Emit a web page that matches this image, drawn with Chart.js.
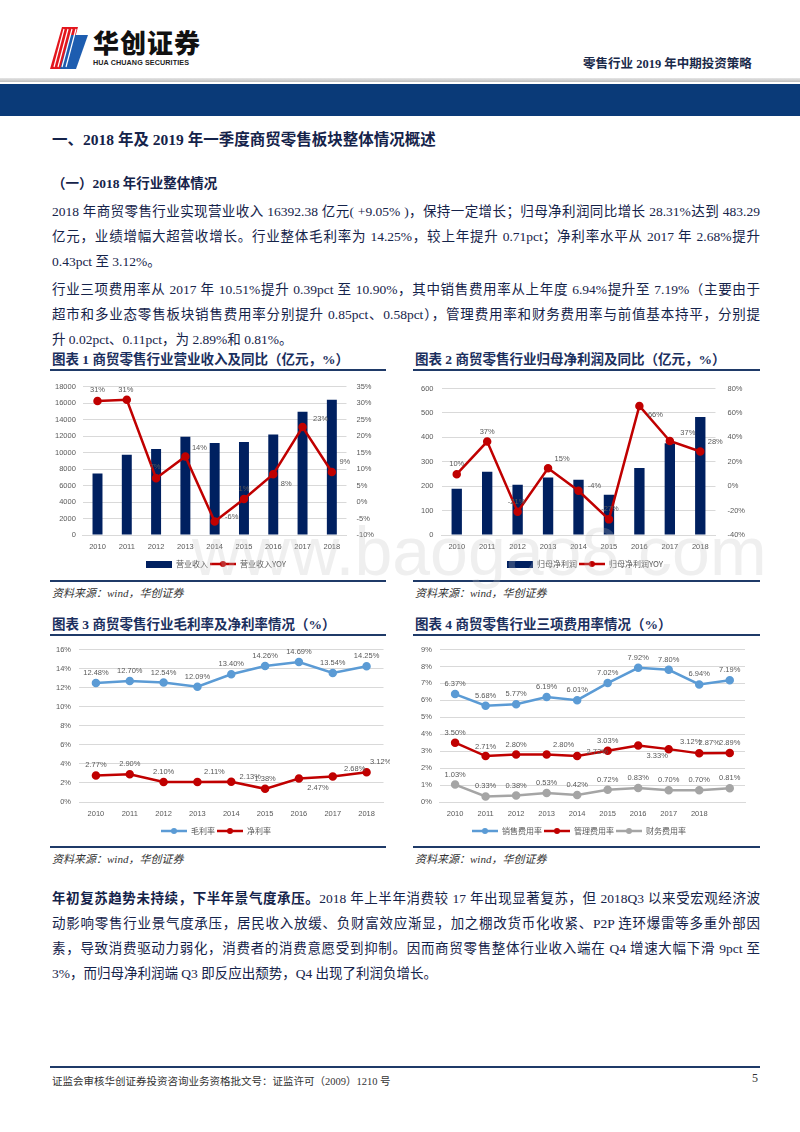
<!DOCTYPE html>
<html><head><meta charset="utf-8">
<script src="https://cdn.jsdelivr.net/npm/chart.js@4.4.1/dist/chart.umd.min.js"></script>
<style>
html,body{margin:0;padding:0;background:#fff;}
body{width:800px;height:1132px;position:relative;overflow:hidden;font-family:"Liberation Serif","Noto Sans CJK SC",serif;color:#15234a;}
.abs{position:absolute;}
.line{position:absolute;left:52px;width:708px;height:25px;line-height:25px;font-size:13.5px;white-space:nowrap;text-align:justify;text-align-last:justify;}
.line.last{text-align-last:left;}
.ttl{position:absolute;font-size:13.5px;font-weight:bold;color:#1b2f5e;white-space:nowrap;}
.rule{position:absolute;height:2px;background:#1f3a68;}
.src{position:absolute;font-size:11px;font-style:italic;color:#333;white-space:nowrap;}
.cbox{position:absolute;}
</style></head>
<body>
<!-- header -->
<svg class="abs" style="left:48px;top:27px" width="42" height="42" viewBox="0 0 42 42">
  <polygon points="14,0 30,0 18,42 2,42" fill="#e3161d"/>
  <polygon points="22,8 40,8 28,42 12,42" fill="#1d5db0"/>
  <g stroke="#fff" stroke-width="1.2">
    <line x1="16" y1="2" x2="6" y2="40"/><line x1="20" y1="2" x2="10" y2="40"/>
    <line x1="24" y1="2" x2="14" y2="40"/><line x1="28" y1="2" x2="18" y2="40"/>
  </g>
</svg>
<div class="abs" style="left:93px;top:27px;font-family:'Noto Sans CJK SC';font-weight:900;font-size:26px;letter-spacing:1px;color:#111;line-height:30px;">华创证券</div>
<div class="abs" style="left:93px;top:58px;font-family:'Liberation Sans';font-weight:bold;font-size:7.2px;color:#222;letter-spacing:0.1px;">HUA CHUANG SECURITIES</div>
<div class="abs" style="left:583px;top:53px;font-size:12.5px;font-weight:bold;color:#1b2a4a;white-space:nowrap;">零售行业 2019 年中期投资策略</div>
<div class="abs" style="left:0;top:78px;width:800px;height:4px;background:linear-gradient(#e6e6e6,#bdbdbd);"></div>
<div class="abs" style="left:0;top:84px;width:800px;height:32px;background:#0a3a78;"></div>

<div class="abs" style="left:52px;top:127px;font-size:15.5px;font-weight:bold;white-space:nowrap;">一、2018 年及 2019 年一季度商贸零售板块整体情况概述</div>
<div class="abs" style="left:52px;top:172px;font-size:13.5px;font-weight:bold;white-space:nowrap;">（一）2018 年行业整体情况</div>

<div class="line" style="top:199px">2018 年商贸零售行业实现营业收入 16392.38 亿元( +9.05% )，保持一定增长；归母净利润同比增长 28.31%达到 483.29</div>
<div class="line" style="top:224px">亿元，业绩增幅大超营收增长。行业整体毛利率为 14.25%，较上年提升 0.71pct；净利率水平从 2017 年 2.68%提升</div>
<div class="line last" style="top:249px">0.43pct 至 3.12%。</div>
<div class="line" style="top:277px">行业三项费用率从 2017 年 10.51%提升 0.39pct 至 10.90%，其中销售费用率从上年度 6.94%提升至 7.19%（主要由于</div>
<div class="line" style="top:302px">超市和多业态零售板块销售费用率分别提升 0.85pct、0.58pct），管理费用率和财务费用率与前值基本持平，分别提</div>
<div class="line last" style="top:327px">升 0.02pct、0.11pct，为 2.89%和 0.81%。</div>

<div class="ttl" style="left:52px;top:348px">图表 1 商贸零售行业营业收入及同比（亿元，%）</div>
<div class="ttl" style="left:415px;top:348px">图表 2 商贸零售行业归母净利润及同比（亿元，%）</div>
<div class="rule" style="left:50px;top:369px;width:336px"></div>
<div class="rule" style="left:413px;top:369px;width:347px"></div>
<div class="cbox" style="left:40px;top:372px;width:350px;height:206px"><canvas id="c1"></canvas></div>
<div class="cbox" style="left:405px;top:372px;width:360px;height:206px"><canvas id="c2"></canvas></div>
<div class="rule" style="left:50px;top:580px;width:336px"></div>
<div class="rule" style="left:413px;top:580px;width:347px"></div>
<div class="src" style="left:52px;top:584px">资料来源：wind，华创证券</div>
<div class="src" style="left:415px;top:584px">资料来源：wind，华创证券</div>

<div class="ttl" style="left:52px;top:613px">图表 3 商贸零售行业毛利率及净利率情况（%）</div>
<div class="ttl" style="left:415px;top:613px">图表 4 商贸零售行业三项费用率情况（%）</div>
<div class="rule" style="left:50px;top:634px;width:336px"></div>
<div class="rule" style="left:413px;top:634px;width:347px"></div>
<div class="cbox" style="left:40px;top:637px;width:350px;height:208px"><canvas id="c3"></canvas></div>
<div class="cbox" style="left:405px;top:637px;width:360px;height:208px"><canvas id="c4"></canvas></div>
<div class="rule" style="left:50px;top:846px;width:336px"></div>
<div class="rule" style="left:413px;top:846px;width:347px"></div>
<div class="src" style="left:52px;top:850px">资料来源：wind，华创证券</div>
<div class="src" style="left:415px;top:850px">资料来源：wind，华创证券</div>

<div class="line" style="top:886px"><b>年初复苏趋势未持续，下半年景气度承压。</b>2018 年上半年消费较 17 年出现显著复苏，但 2018Q3 以来受宏观经济波</div>
<div class="line" style="top:911px">动影响零售行业景气度承压，居民收入放缓、负财富效应渐显，加之棚改货币化收紧、P2P 连环爆雷等多重外部因</div>
<div class="line" style="top:936px">素，导致消费驱动力弱化，消费者的消费意愿受到抑制。因而商贸零售整体行业收入端在 Q4 增速大幅下滑 9pct 至</div>
<div class="line last" style="top:961px">3%，而归母净利润端 Q3 即反应出颓势，Q4 出现了利润负增长。</div>

<div class="abs" style="left:50px;top:1066px;width:710px;height:2px;background:#1f3a68;"></div>
<div class="abs" style="left:52px;top:1073px;font-size:10.5px;color:#333;white-space:nowrap;">证监会审核华创证券投资咨询业务资格批文号：证监许可（2009）1210 号</div>
<div class="abs" style="left:752px;top:1071px;font-size:12px;color:#333;">5</div>

<div class="abs" style="left:192px;top:512px;font-family:'Liberation Sans';font-size:68px;color:rgba(190,190,190,0.25);white-space:nowrap;pointer-events:none;">www.baogao8.com</div>

<script>
// ---------- data ----------
const years = ['2010','2011','2012','2013','2014','2015','2016','2017','2018'];
const years4 = ['2010','2011','2012','2013','2014','2015','2016','2017','2018',''];
const revenue = [7440, 9715, 10436, 11917, 11158, 11271, 12182, 14953, 16392];
const revenueYoy = [30.6, 31.0, 7.2, 13.8, -5.9, 0.9, 8.4, 22.7, 9.1];
const profit = [189, 259, 206, 236, 226, 165, 274, 376, 483];
const profitYoy = [9.8, 36.5, -20.9, 14.6, -3.8, -27.2, 65.7, 37.0, 28.4];
const grossMargin = [12.48, 12.70, 12.54, 12.09, 13.40, 14.26, 14.69, 13.54, 14.25];
const netMargin = [2.77, 2.90, 2.10, 2.11, 2.13, 1.38, 2.47, 2.68, 3.12];
const salesExp = [6.37, 5.68, 5.77, 6.19, 6.01, 7.02, 7.92, 7.80, 6.94, 7.19];
const mgmtExp = [3.50, 2.71, 2.80, 2.80, 2.72, 3.03, 3.33, 3.12, 2.87, 2.89];
const finExp = [1.03, 0.33, 0.38, 0.53, 0.42, 0.72, 0.83, 0.70, 0.70, 0.81];

// ---------- label offsets (styling) ----------
const up = n => Array(n).fill([0,-10]);
const off1 = [[0,-11],[-1,-10],[-1,-11],[14,-9],[17,-5],[0,-10],[13,10],[18,-8],[13,-10]];
const off2 = [[0,-10],[0,-10],[-1,-10],[14,-9],[16,-5],[1,-10],[16,9],[18,-8],[15,-10]];
const off3n = [[0,-11],[0,-10],[0,-10],[17,-10],[19,-5],[0,-10],[19,9],[22,-8],[14,-10]];
const off4m = [[0,-10],[0,-9],[0,-10],[17,-10],[20,-4],[0,-10],[19,10],[22,-7],[10,-10],[0,-10]];

const NAVY='#002060', RED='#c00000', BLUE='#5b9bd5', GRAY='#a5a5a5', GRID='#d9d9d9', TXT='#595959';
const TICKF={family:'"Liberation Sans"',size:7.5};

const labelPlugin={id:'vlabels',afterDatasetsDraw(chart){
  const ctx=chart.ctx;
  chart.data.datasets.forEach((ds,i)=>{
    if(!ds.labelFmt) return;
    const meta=chart.getDatasetMeta(i);
    ctx.save();ctx.font='7.5px "Liberation Sans"';ctx.fillStyle=TXT;ctx.textAlign='center';ctx.textBaseline='middle';
    meta.data.forEach((el,j)=>{const o=ds.labelOff?ds.labelOff[j]:[0,-10];ctx.fillText(ds.labelFmt(ds.data[j]),el.x+o[0],el.y+o[1]);});
    ctx.restore();
  });
}};

function icon(type,color){
  const c=document.createElement('canvas');
  if(type==='bar'){c.width=26;c.height=7;const x=c.getContext('2d');x.fillStyle=color;x.fillRect(0,0,26,7);}
  else{c.width=26;c.height=8;const x=c.getContext('2d');x.strokeStyle=color;x.lineWidth=2.5;x.beginPath();x.moveTo(0,4);x.lineTo(26,4);x.stroke();x.fillStyle=color;x.beginPath();x.arc(13,4,3,0,Math.PI*2);x.fill();}
  return c;
}
function legendOpts(){
  return {position:'bottom',labels:{usePointStyle:true,pointStyleWidth:26,boxHeight:7,padding:2,color:TXT,font:{family:'"Noto Sans CJK SC"',size:8},
    generateLabels(chart){return chart.data.datasets.map((ds,i)=>({text:ds.label,pointStyle:icon(ds.type==='bar'?'bar':'line',ds.borderColor||ds.backgroundColor),fillStyle:ds.backgroundColor,strokeStyle:ds.borderColor,lineWidth:0,hidden:false,datasetIndex:i,fontColor:TXT}));}}};
}
function lineDs(label,data,color,fmt,offs){
  return {type:'line',label,data,borderColor:color,backgroundColor:color,borderWidth:2.5,pointRadius:3,pointBackgroundColor:color,pointBorderColor:color,tension:0,labelFmt:fmt,labelOff:offs};
}
const pct0=v=>Math.round(v)+'%', pct2=v=>v.toFixed(2)+'%';
const xAxis=(labels)=>({type:'category',labels,offset:true,grid:{display:false,drawTicks:false},border:{color:GRID},ticks:{color:TXT,font:TICKF,padding:7,maxRotation:0,autoSkip:false}});

Chart.defaults.animation=false;
Chart.defaults.font.family='"Liberation Sans"';

new Chart(document.getElementById('c1'),{data:{labels:years,datasets:[
  {type:'bar',label:'营业收入',data:revenue,backgroundColor:NAVY,borderColor:NAVY,barPercentage:0.34,categoryPercentage:1,yAxisID:'y',order:2},
  Object.assign(lineDs('营业收入YOY',revenueYoy,RED,pct0,off1),{yAxisID:'y1',order:1})
]},options:{responsive:true,maintainAspectRatio:false,layout:{padding:{left:8,right:6,top:0,bottom:0}},
  plugins:{legend:legendOpts(),tooltip:{enabled:false}},
  scales:{x:xAxis(years),
    y:{position:'left',min:0,max:18000,ticks:{stepSize:2000,color:TXT,font:TICKF,padding:7,callback:v=>String(v)},grid:{color:GRID,drawTicks:false},border:{display:false}},
    y1:{position:'right',min:-10,max:35,ticks:{stepSize:5,color:TXT,font:TICKF,padding:10,callback:v=>v+'%'},grid:{display:false,drawTicks:false},border:{display:false}}}},
  plugins:[labelPlugin]});

new Chart(document.getElementById('c2'),{data:{labels:years,datasets:[
  {type:'bar',label:'归母净利润',data:profit,backgroundColor:NAVY,borderColor:NAVY,barPercentage:0.34,categoryPercentage:1,yAxisID:'y',order:2},
  Object.assign(lineDs('归母净利润YOY',profitYoy,RED,pct0,off2),{yAxisID:'y1',order:1})
]},options:{responsive:true,maintainAspectRatio:false,layout:{padding:{left:8,right:8,top:0,bottom:0}},
  plugins:{legend:legendOpts(),tooltip:{enabled:false}},
  scales:{x:xAxis(years),
    y:{position:'left',min:0,max:600,ticks:{stepSize:100,color:TXT,font:TICKF,padding:8},grid:{color:GRID,drawTicks:false},border:{display:false}},
    y1:{position:'right',min:-40,max:80,ticks:{stepSize:20,color:TXT,font:TICKF,padding:12,callback:v=>v+'%'},grid:{display:false,drawTicks:false},border:{display:false}}}},
  plugins:[labelPlugin]});

new Chart(document.getElementById('c3'),{data:{labels:years,datasets:[
  lineDs('毛利率',grossMargin,BLUE,pct2,up(9)),
  lineDs('净利率',netMargin,RED,pct2,off3n)
]},options:{responsive:true,maintainAspectRatio:false,layout:{padding:{left:8,right:6,top:2,bottom:0}},
  plugins:{legend:legendOpts(),tooltip:{enabled:false}},
  scales:{x:xAxis(years),
    y:{min:0,max:16,ticks:{stepSize:2,color:TXT,font:TICKF,padding:8,callback:v=>v+'%'},grid:{color:GRID,drawTicks:false},border:{display:false}}}},
  plugins:[labelPlugin]});

new Chart(document.getElementById('c4'),{data:{labels:years4,datasets:[
  lineDs('销售费用率',salesExp,BLUE,pct2,up(10)),
  lineDs('管理费用率',mgmtExp,RED,pct2,off4m),
  lineDs('财务费用率',finExp,GRAY,pct2,up(10))
]},options:{responsive:true,maintainAspectRatio:false,layout:{padding:{left:8,right:20,top:2,bottom:0}},
  plugins:{legend:legendOpts(),tooltip:{enabled:false}},
  scales:{x:xAxis(years4),
    y:{min:0,max:9,ticks:{stepSize:1,color:TXT,font:TICKF,padding:8,callback:v=>v+'%'},grid:{color:GRID,drawTicks:false},border:{display:false}}}},
  plugins:[labelPlugin]});
</script>
</body></html>
